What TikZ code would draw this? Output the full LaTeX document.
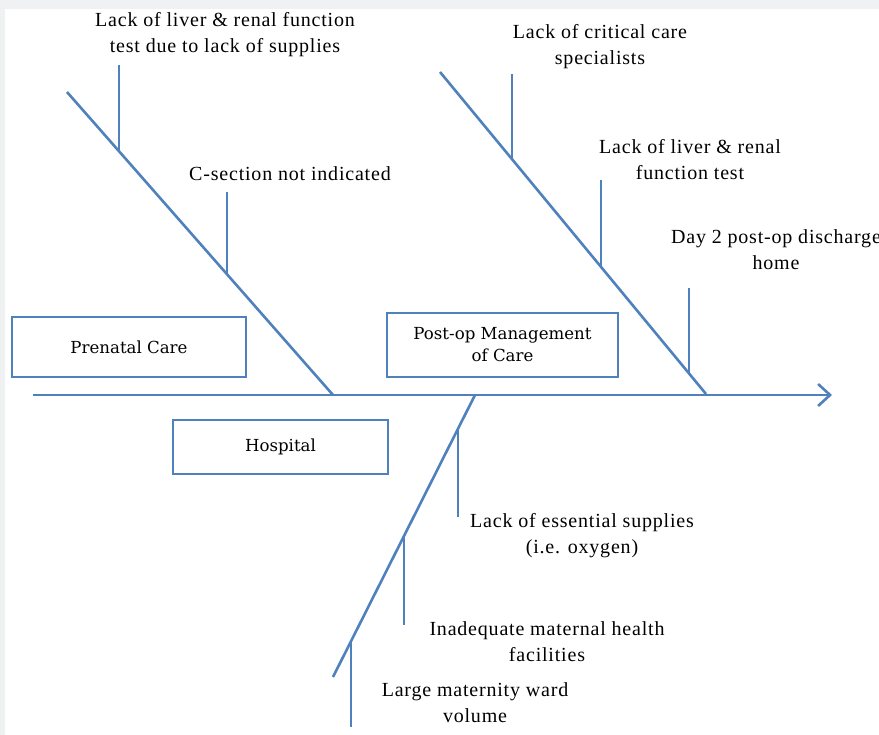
\documentclass[tikz,border=0pt]{standalone}
\usepackage{fontspec}
\setmainfont{Liberation Serif}
\newfontfamily\causefont[LetterSpace=4]{Liberation Serif}
\newfontfamily\boxfont{DejaVu Serif}
\usetikzlibrary{arrows.meta}
\definecolor{bone}{HTML}{4F81BD}
\definecolor{pagegray}{HTML}{F0F1F3}
\begin{document}
\begin{tikzpicture}[x=1pt,y=-1pt,
  boneline/.style={draw=bone,line width=2.6pt},
  catbox/.style={draw=bone,line width=2.4pt,fill=white,minimum width=#1,align=center,inner sep=0pt,
     font=\boxfont\fontsize{16.6}{22}\selectfont},
  cause/.style={align=center,inner sep=0pt,font=\causefont\fontsize{20}{26}\selectfont}]
\useasboundingbox (0,0) rectangle (879,735);
\fill[pagegray] (0,0) rectangle (879,735);
\fill[white] (5,9) rectangle (879,735);
% spine
\coordinate (tail) at (33,395);
\coordinate (head) at (832,395);
\draw[boneline,-{Straight Barb[length=12pt,width=22pt,line width=2.6pt]}] (tail) -- (head);
% upper-left bone
\coordinate (ulA) at (67,92);
\coordinate (ulB) at (333,395);
\draw[boneline] (ulA) -- (ulB);
\coordinate (s1t) at (119,65);  \coordinate (s1b) at (119,151);
\coordinate (s2t) at (227,192); \coordinate (s2b) at (227,274);
\draw[boneline] (s1t) -- (s1b);
\draw[boneline] (s2t) -- (s2b);
\node[cause] (c1) at (225,35) {Lack of liver \& renal function\\test due to lack of supplies};
\node[cause] (c2) at (290,174) {C-section not indicated};
% upper-right bone
\coordinate (urA) at (440,72);
\coordinate (urB) at (706,394);
\draw[boneline] (urA) -- (urB);
\coordinate (s3t) at (512,74);  \coordinate (s3b) at (512,159);
\coordinate (s4t) at (601,180); \coordinate (s4b) at (601,267);
\coordinate (s5t) at (689,288); \coordinate (s5b) at (689,373);
\draw[boneline] (s3t) -- (s3b);
\draw[boneline] (s4t) -- (s4b);
\draw[boneline] (s5t) -- (s5b);
\node[cause] (c3) at (600,47) {Lack of critical care\\specialists};
\node[cause] (c4) at (690,160) {Lack of liver \& renal\\function test};
\node[cause] (c5) at (776,250) {Day 2 post-op discharge\\home};
% lower bone
\coordinate (loA) at (475,395);
\coordinate (loB) at (333,677);
\draw[boneline] (loA) -- (loB);
\coordinate (s6t) at (458,429); \coordinate (s6b) at (458,517);
\coordinate (s7t) at (404,536); \coordinate (s7b) at (404,625);
\coordinate (s8t) at (351,640); \coordinate (s8b) at (351,727);
\draw[boneline] (s6t) -- (s6b);
\draw[boneline] (s7t) -- (s7b);
\draw[boneline] (s8t) -- (s8b);
\node[cause] (c6) at (582,536) {Lack of essential supplies\\(i.e. oxygen)};
\node[cause] (c7) at (547,642) {Inadequate maternal health\\facilities};
\node[cause] (c8) at (475,703) {Large maternity ward\\volume};
% category boxes
\node[catbox=234pt,minimum height=60pt] (prenatal) at (129,347) {Prenatal Care};
\node[catbox=215pt,minimum height=54pt] (hospital) at (280.5,447) {Hospital};
\node[catbox=231pt,minimum height=64pt] (postop) at (502.5,345) {Post-op Management\\of Care};
\end{tikzpicture}
\end{document}
